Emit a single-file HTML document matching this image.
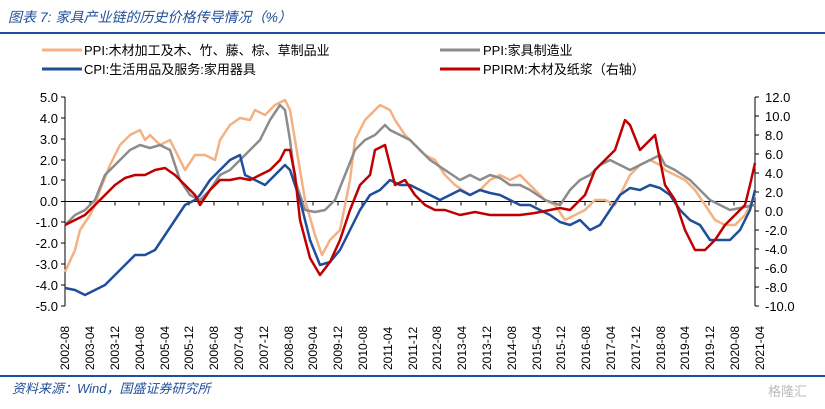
<!DOCTYPE html>
<html><head><meta charset="utf-8"><style>
body{margin:0;background:#fff;width:825px;height:409px;overflow:hidden}
svg{display:block}
text{font-family:"Liberation Sans","Noto Sans CJK SC",sans-serif}
</style></head><body>
<svg width="825" height="409" xmlns="http://www.w3.org/2000/svg">
<text x="8" y="22" font-size="14" fill="#1F4E9A" font-style="italic">图表 7:  家具产业链的历史价格传导情况（%）</text>
<line x1="0" y1="33" x2="825" y2="33" stroke="#1F4E9A" stroke-width="2"/>
<g font-size="13" fill="#000">
<line x1="42" y1="50" x2="82" y2="50" stroke="#F4B183" stroke-width="3"/><text x="84" y="55">PPI:木材加工及木、竹、藤、棕、草制品业</text>
<line x1="440" y1="50" x2="480" y2="50" stroke="#8C8C8C" stroke-width="3"/><text x="483" y="55">PPI:家具制造业</text>
<line x1="42" y1="69" x2="82" y2="69" stroke="#1F4E9A" stroke-width="3"/><text x="84" y="74">CPI:生活用品及服务:家用器具</text>
<line x1="440" y1="69" x2="480" y2="69" stroke="#C00000" stroke-width="3"/><text x="483" y="74">PPIRM:木材及纸浆（右轴）</text>
</g>
<g stroke="#000" stroke-width="1" fill="none">
<line x1="65" y1="97" x2="65" y2="306"/><line x1="755" y1="97" x2="755" y2="306"/>
<line x1="65" y1="201.5" x2="755" y2="201.5"/>
<path d="M61,97H65M61,118H65M61,139H65M61,160H65M61,180H65M61,201.5H65M61,222H65M61,243H65M61,264H65M61,285H65M61,306H65"/>
<path d="M755,97H759M755,116H759M755,135H759M755,154H759M755,173H759M755,192H759M755,211H759M755,230H759M755,249H759M755,268H759M755,287H759M755,306H759"/>
<path d="M90,201.5v4M115,201.5v4M139,201.5v4M164,201.5v4M189,201.5v4M214,201.5v4M238,201.5v4M263,201.5v4M288,201.5v4M313,201.5v4M338,201.5v4M362,201.5v4M387,201.5v4M412,201.5v4M437,201.5v4M461,201.5v4M486,201.5v4M511,201.5v4M536,201.5v4M560,201.5v4M585,201.5v4M610,201.5v4M635,201.5v4M660,201.5v4M684,201.5v4M709,201.5v4M734,201.5v4"/>
</g>
<g font-size="13" text-anchor="end" fill="#000">
<text x="58" y="102">5.0</text><text x="58" y="123">4.0</text><text x="58" y="144">3.0</text><text x="58" y="165">2.0</text><text x="58" y="185">1.0</text><text x="58" y="206">0.0</text><text x="58" y="227">-1.0</text><text x="58" y="248">-2.0</text><text x="58" y="269">-3.0</text><text x="58" y="290">-4.0</text><text x="58" y="311">-5.0</text>
</g>
<g font-size="13" text-anchor="start" fill="#000">
<text x="765" y="102">12.0</text><text x="765" y="121">10.0</text><text x="765" y="140">8.0</text><text x="765" y="159">6.0</text><text x="765" y="178">4.0</text><text x="765" y="197">2.0</text><text x="765" y="216">0.0</text><text x="765" y="235">-2.0</text><text x="765" y="254">-4.0</text><text x="765" y="273">-6.0</text><text x="765" y="292">-8.0</text><text x="765" y="311">-10.0</text>
</g>
<g font-size="12" fill="#000">
<text transform="translate(69,370) rotate(-90)">2002-08</text><text transform="translate(94,370) rotate(-90)">2003-04</text><text transform="translate(119,370) rotate(-90)">2003-12</text><text transform="translate(144,370) rotate(-90)">2004-08</text><text transform="translate(169,370) rotate(-90)">2005-04</text><text transform="translate(193,370) rotate(-90)">2005-12</text><text transform="translate(218,370) rotate(-90)">2006-08</text><text transform="translate(243,370) rotate(-90)">2007-04</text><text transform="translate(268,370) rotate(-90)">2007-12</text><text transform="translate(293,370) rotate(-90)">2008-08</text><text transform="translate(317,370) rotate(-90)">2009-04</text><text transform="translate(342,370) rotate(-90)">2009-12</text><text transform="translate(367,370) rotate(-90)">2010-08</text><text transform="translate(392,370) rotate(-90)">2011-04</text><text transform="translate(417,370) rotate(-90)">2011-12</text><text transform="translate(441,370) rotate(-90)">2012-08</text><text transform="translate(466,370) rotate(-90)">2013-04</text><text transform="translate(491,370) rotate(-90)">2013-12</text><text transform="translate(516,370) rotate(-90)">2014-08</text><text transform="translate(541,370) rotate(-90)">2015-04</text><text transform="translate(565,370) rotate(-90)">2015-12</text><text transform="translate(590,370) rotate(-90)">2016-08</text><text transform="translate(615,370) rotate(-90)">2017-04</text><text transform="translate(640,370) rotate(-90)">2017-12</text><text transform="translate(665,370) rotate(-90)">2018-08</text><text transform="translate(689,370) rotate(-90)">2019-04</text><text transform="translate(714,370) rotate(-90)">2019-12</text><text transform="translate(739,370) rotate(-90)">2020-08</text><text transform="translate(764,370) rotate(-90)">2021-04</text>
</g>
<g fill="none" stroke-width="2.5" stroke-linejoin="round">
<polyline stroke="#F4B183" points="65,272 75,250 80,230 90,215 95,205 100,190 110,165 120,145 130,135 140,130 145,140 150,135 160,145 170,140 180,160 185,170 195,155 205,155 215,160 220,140 230,125 240,118 250,120 255,110 265,115 275,105 285,100 290,110 295,140 300,170 305,200 315,235 322,255 330,240 340,230 350,180 355,140 365,120 375,110 380,105 390,110 395,120 405,135 415,145 425,155 435,160 445,175 455,185 470,195 480,190 490,180 500,175 510,180 520,175 530,185 545,200 555,205 565,220 575,215 585,210 595,200 605,200 615,205 620,195 630,175 640,165 650,160 660,165 665,170 675,175 685,180 695,190 705,205 715,220 725,225 735,225 745,215 755,195"/>
<polyline stroke="#8C8C8C" points="65,225 75,215 85,210 95,200 105,175 120,160 130,150 140,145 150,148 160,145 170,150 180,180 190,195 200,200 210,190 220,175 230,170 240,160 250,150 260,140 270,120 280,105 285,110 290,140 295,180 300,195 305,210 315,212 325,210 335,200 345,175 355,150 365,140 375,135 385,125 390,130 400,135 410,140 420,150 430,160 445,170 460,180 470,175 480,180 490,175 500,178 510,185 520,185 530,190 545,200 560,205 570,190 580,180 590,175 600,165 610,160 620,165 630,170 640,165 650,160 660,155 665,165 675,170 690,180 700,190 710,200 720,205 730,210 740,208 755,205"/>
<polyline stroke="#1F4E9A" points="65,288 75,290 85,295 95,290 105,285 115,275 125,265 135,255 145,255 155,250 165,235 175,220 185,205 195,200 200,195 210,180 220,170 230,160 240,155 245,175 255,180 265,185 275,175 285,165 290,170 300,200 310,240 320,265 330,262 340,250 350,230 360,210 370,195 380,190 390,180 400,185 410,185 420,190 430,195 440,200 450,195 460,190 470,195 480,190 490,193 500,195 510,200 520,205 530,205 540,210 550,215 560,222 570,225 580,220 590,230 600,225 610,210 620,195 630,188 640,190 650,185 660,188 670,195 680,210 690,220 700,225 710,240 720,240 730,240 740,230 750,210 755,190"/>
<polyline stroke="#C00000" points="65,225 75,220 85,215 95,205 105,195 115,185 125,178 135,175 145,175 155,170 165,168 175,175 185,185 195,195 200,205 210,190 220,180 230,180 240,178 250,180 260,175 270,170 280,160 285,150 290,150 295,175 300,220 310,258 320,275 330,262 340,240 350,210 360,185 370,175 375,150 385,145 395,185 405,180 415,195 425,205 435,210 445,210 460,215 475,212 490,215 505,215 520,215 535,213 550,210 560,208 570,210 585,195 595,170 605,160 615,150 620,135 625,120 630,125 640,150 650,140 655,135 660,160 665,185 675,200 685,230 695,250 705,250 715,240 725,225 735,215 745,205 750,185 755,163"/>
</g>
<line x1="0" y1="376" x2="825" y2="376" stroke="#1F4E9A" stroke-width="2"/>
<text x="12" y="393" font-size="13" fill="#1F4E9A" font-style="italic">资料来源：Wind，国盛证券研究所</text>
<text x="768" y="396" font-size="13" fill="#bbb">格隆汇</text>
</svg>
</body></html>
